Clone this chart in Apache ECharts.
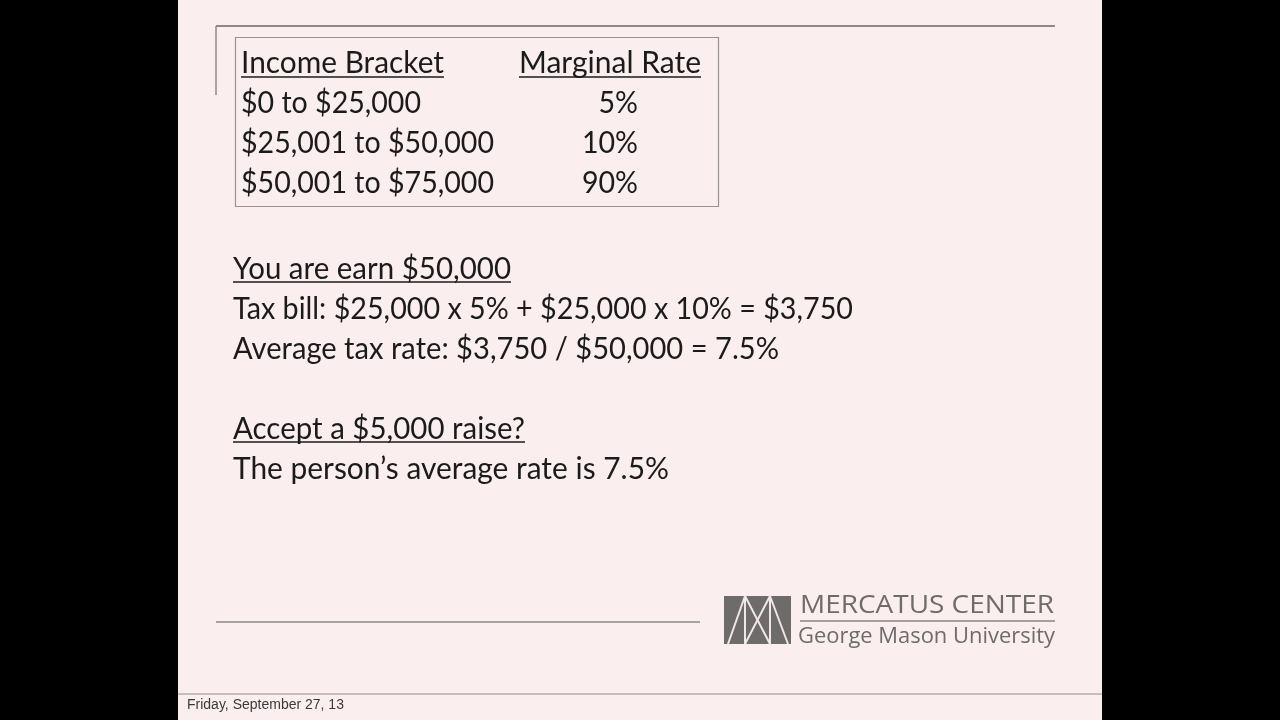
<!DOCTYPE html>
<html><head><meta charset="utf-8">
<script src="https://cdn.jsdelivr.net/npm/echarts@6/dist/echarts.min.js"></script>
<style>html,body{margin:0;padding:0;background:#000;}#c{width:1280px;height:720px;}</style>
</head><body><div id="c"></div>
<script>
// ---- data ----
var tableHeaders = ['Income Bracket', 'Marginal Rate'];
var brackets = ['$0 to $25,000', '$25,001 to $50,000', '$50,001 to $75,000'];
var rates = ['5%', '10%', '90%'];
var bodyLines = [
  {text: 'You are earn $50,000', underline: true},
  {text: 'Tax bill: $25,000 x 5% + $25,000 x 10% = $3,750', underline: false},
  {text: 'Average tax rate: $3,750 / $50,000 = 7.5%', underline: false},
  {text: '', underline: false},
  {text: 'Accept a $5,000 raise?', underline: true},
  {text: 'The person\u2019s average rate is 7.5%', underline: false}
];
var logoTitle = 'MERCATUS CENTER';
var logoSub = 'George Mason University';
var footerText = 'Friday, September 27, 13';

// ---- layout (widths of each text line as rendered on the slide) ----
var headerWidths = [203, 182];
var bracketWidths = [180, 253, 253];
var bodyWidths = [278, 620, 546, 0, 292, 436];

var FONT = 'Lato';
var FS = 29;
var INK = '#1b1b1b';
var mc = document.createElement('canvas').getContext('2d');
function measure(t, fs, ff) { mc.font = fs + 'px ' + ff; return mc.measureText(t).width; }
var chart = echarts.init(document.getElementById('c'));

function build() {
  var els = [];
  els.push({type: 'rect', shape: {x: 178, y: 0, width: 924, height: 720}, style: {fill: '#fbeeee'}, silent: true});
  els.push({type: 'line', shape: {x1: 178, y1: 694, x2: 1102, y2: 694}, style: {stroke: '#c9bcbc', lineWidth: 2}});
  els.push({type: 'line', shape: {x1: 216, y1: 26, x2: 1055, y2: 26}, style: {stroke: '#8e8888', lineWidth: 2}});
  els.push({type: 'line', shape: {x1: 216, y1: 26, x2: 216, y2: 95}, style: {stroke: '#8e8888', lineWidth: 1.5}});
  els.push({type: 'line', shape: {x1: 216, y1: 622, x2: 700, y2: 622}, style: {stroke: '#8e8888', lineWidth: 1.5}});
  els.push({type: 'rect', shape: {x: 235.5, y: 37.5, width: 483, height: 169}, style: {fill: 'none', stroke: '#9a9393', lineWidth: 1.2}});

  function txt(t, x, y, align, fs, ff, color, scale, sy) {
    return {type: 'text', x: x, y: y, scaleX: scale, scaleY: sy || 1,
      style: {text: t, x: 0, y: 0, font: fs + 'px ' + ff, fill: color, align: align, verticalAlign: 'middle'}};
  }
  function fitted(t, x, y, w, align) {
    var s = w / measure(t, FS, FONT);
    return txt(t, x, y, align || 'left', FS, FONT, INK, s, 1.04);
  }
  function underline(x, y, w) {
    return {type: 'line', shape: {x1: x, y1: y, x2: x + w, y2: y}, style: {stroke: INK, lineWidth: 1.6}};
  }
  var hx = [241, 519];
  tableHeaders.forEach(function (h, i) {
    els.push(fitted(h, hx[i], 63, headerWidths[i]));
    els.push(underline(hx[i], 77, headerWidths[i]));
  });
  brackets.forEach(function (b, i) {
    els.push(fitted(b, 241, 103 + 40 * i, bracketWidths[i]));
  });
  var rs = 253 / measure(brackets[1], FS, FONT);
  rates.forEach(function (r, i) {
    els.push(txt(r, 638, 103 + 40 * i, 'right', FS, FONT, INK, rs, 1.04));
  });
  bodyLines.forEach(function (l, i) {
    if (!l.text) return;
    var y = 269 + 40 * i;
    els.push(fitted(l.text, 233, y, bodyWidths[i]));
    if (l.underline) els.push(underline(233, y + 13, bodyWidths[i]));
  });

  var lg = '#6e6b6b';
  els.push({type: 'rect', shape: {x: 724, y: 596, width: 67, height: 48}, style: {fill: lg}});
  var W = {stroke: '#f3e6e6', lineWidth: 2};
  [[728, 644, 745, 596], [745, 596, 745, 644], [745, 596, 770, 644], [770, 596, 745, 644], [770, 596, 770, 644], [770, 596, 788, 644]].forEach(function (s) {
    els.push({type: 'line', shape: {x1: s[0], y1: s[1], x2: s[2], y2: s[3]}, style: W});
  });
  var tw = measure(logoTitle, 25, 'Open Sans');
  els.push(txt(logoTitle, 800, 606, 'left', 25, 'Open Sans', lg, 254 / tw));
  els.push({type: 'line', shape: {x1: 800, y1: 621, x2: 1055, y2: 621}, style: {stroke: '#8a8585', lineWidth: 1.5}});
  var sw = measure(logoSub, 22, 'Open Sans');
  els.push(txt(logoSub, 798, 637, 'left', 22, 'Open Sans', lg, 257 / sw));

  els.push(txt(footerText, 187, 705, 'left', 14, 'Liberation Sans', '#3a3a3a', 1));

  chart.setOption({animation: false, backgroundColor: '#000', graphic: {elements: els}});
}
if (document.fonts && document.fonts.load) {
  Promise.all([document.fonts.load('29px Lato'), document.fonts.load('25px "Open Sans"')]).then(build, build);
} else { build(); }
</script>
</body></html>
